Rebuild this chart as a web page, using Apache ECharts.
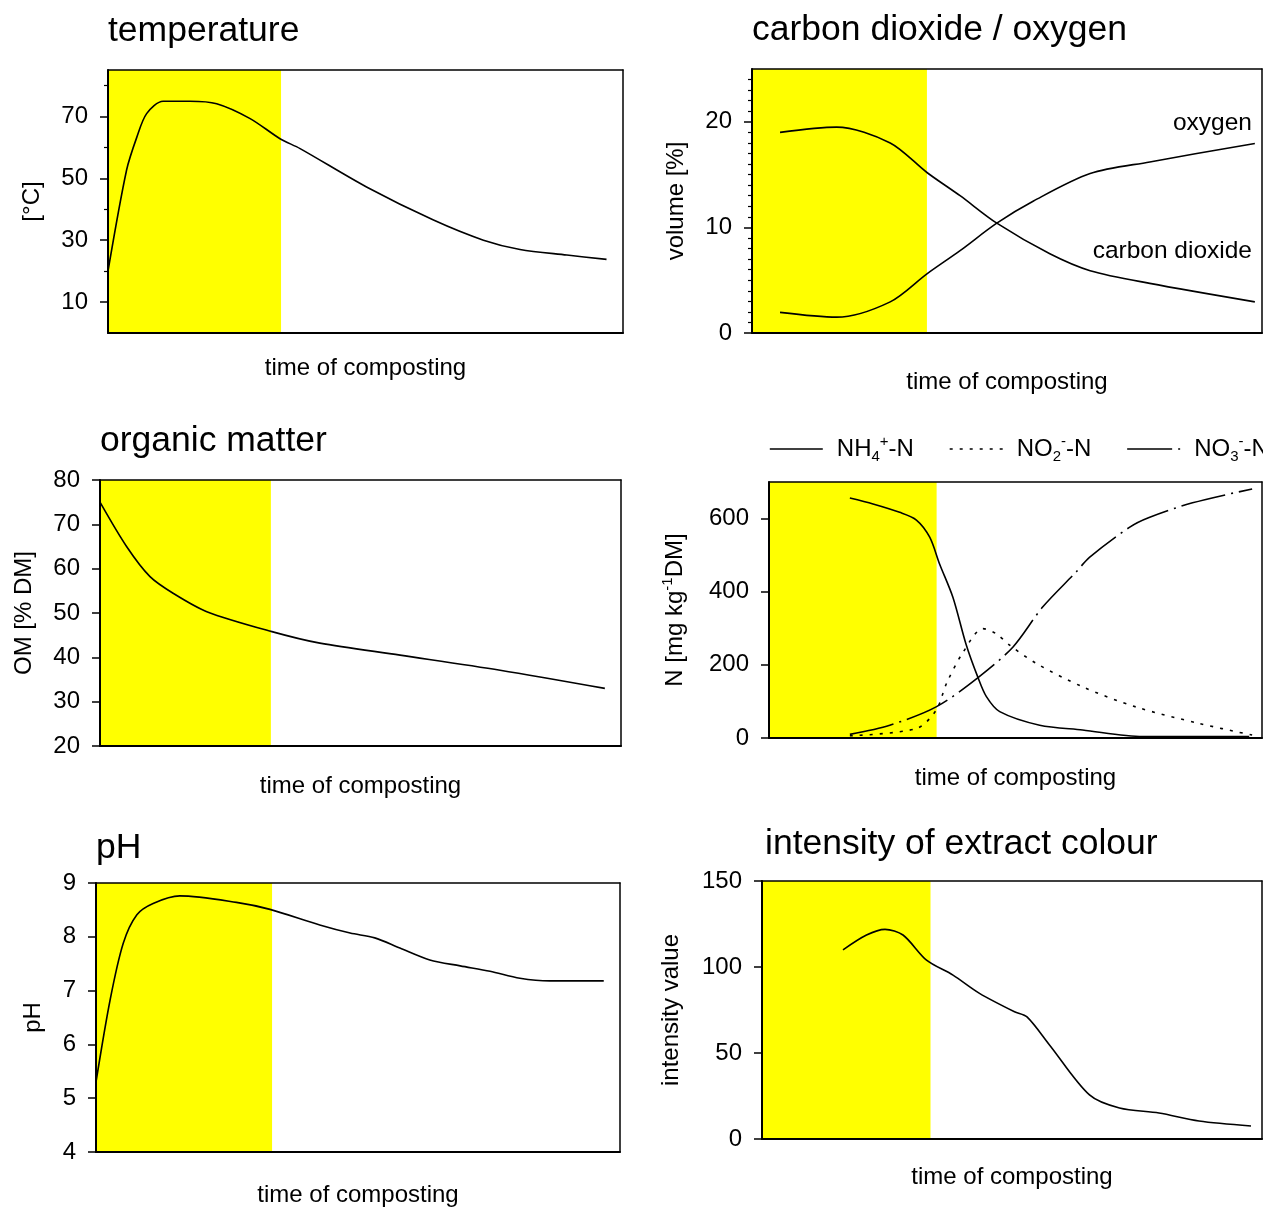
<!DOCTYPE html>
<html><head><meta charset="utf-8">
<script src="https://cdn.jsdelivr.net/npm/echarts@6/dist/echarts.min.js"></script>
<style>html,body{margin:0;padding:0;background:#fff}#c{width:1263px;height:1209px}</style>
</head><body><div id="c"></div>
<script>
const FONT = 'Liberation Sans, Arial, sans-serif';
// x = share of composting time (%), y = measured value
const temperature = [[0,20],[3.6,52.6],[5.6,63.3],[7.5,70.9],[10.7,74.9],[15.9,74.9],[21.1,74.1],[27.6,69.3],[33.4,62.8],[37.3,59.6],[50.2,47.2],[63.2,36.5],[72.9,30],[80,27],[89.1,25.2],[96.8,23.8]];
const carbonDioxide = [[5.5,19.0],[16.6,19.5],[27.1,18.0],[34.3,15.2],[40.8,13.0],[48.0,10.4],[58.4,7.5],[66.3,5.9],[78.0,4.7],[98.6,2.95]];
const oxygen = [[5.5,1.95],[16.6,1.5],[27.1,2.95],[34.3,5.6],[40.8,7.8],[48.0,10.4],[55.2,12.5],[66.3,15.1],[78.0,16.2],[98.6,17.95]];
const organicMatter = [[0,75],[5.1,65],[9.6,58.2],[14.1,54.4],[20.5,50.3],[33.0,45.8],[42.2,43.2],[57.6,40.5],[76.8,37.1],[96.9,33.0]];
const ammonium = [[16.4,656],[21.1,640],[26.5,617],[29.9,596],[32.6,549],[34.6,476],[37.3,385],[40.0,255],[42.4,165],[44.1,113],[46.8,72],[54.9,35],[63.6,22],[75.8,4],[97.4,4]];
const nitrite = [[16.4,6],[29.9,26],[33.9,76],[36.0,149],[39.3,233],[43.4,299],[46.1,285],[48.8,254],[54.2,204],[63.6,140],[74.4,85],[87.2,40],[98.0,8]];
const nitrate = [[16.4,10],[24.5,35],[33.9,85],[42.4,165],[49.5,249],[55.5,358],[62.3,454],[65.0,494],[73.1,576],[77.1,603],[85.9,643],[98.0,681]];
const pH = [[0,5.3],[2.7,6.83],[5.2,7.88],[7.8,8.41],[10.9,8.62],[16.0,8.76],[26.8,8.64],[33.2,8.51],[42.7,8.22],[48.5,8.07],[53.2,7.98],[58.0,7.79],[63.7,7.57],[69.5,7.46],[75.2,7.36],[80.9,7.23],[86.6,7.18],[96.9,7.18]];
const colourIntensity = [[16.2,110],[20.9,118.6],[24.6,121.9],[28.2,118.6],[32.9,104],[38.2,95.3],[43.5,84.7],[50.5,74],[53,71],[57.5,54.7],[65.5,25.6],[71.5,18],[79.4,15.1],[87.4,10.5],[97.8,7.6]];
// thermophilic phase (yellow band), end in % of time
const thermoEnd = [33.6, 34.3, 32.8, 34.0, 33.6, 33.7];
// tick labels
const tempLabels = [10,30,50,70];
const tempMinor = [20,40,60,80];
const gasLabels = [0,10,20];
const gasMinor = [1,2,3,4,5,6,7,8,9,11,12,13,14,15,16,17,18,19,21,22,23,24];
const nLabels = [0,200,400,600];

const option = {
  animation: false, backgroundColor: '#fff',
  textStyle: { fontFamily: FONT },
  title: [], grid: [], xAxis: [], yAxis: [], series: [], graphic: []
};
const SMALL = 24;
const rich = {
  n: { fontSize: SMALL, lineHeight: 30, color: '#000', fontFamily: FONT },
  sub: { fontSize: 15, lineHeight: 30, verticalAlign: 'bottom', color: '#000', fontFamily: FONT },
  sup: { fontSize: 15, lineHeight: 30, verticalAlign: 'top', color: '#000', fontFamily: FONT },
  sp: { width: 9 }
};

function addPanel(p) {
  const gi = option.grid.length;
  option.grid.push({ left: p.box[0], top: p.box[1], width: p.box[2], height: p.box[3] });
  option.title.push({ text: p.title, left: p.box[0] + (p.titleDx || 0), top: p.titleTop, padding: 0,
    textStyle: { fontSize: 35.5, fontWeight: 'normal', color: '#000', fontFamily: FONT } });
  const xi = option.xAxis.length;
  option.xAxis.push({ type: 'value', gridIndex: gi, position: 'bottom', min: 0, max: 100, z: 5,
    name: 'time of composting', nameLocation: 'middle', nameGap: p.xGap,
    nameTextStyle: { fontSize: SMALL, color: '#000', fontFamily: FONT },
    axisLine: { show: true, onZero: false, lineStyle: { color: '#000', width: 2 } },
    axisTick: { show: false }, axisLabel: { show: false }, splitLine: { show: false } });
  option.xAxis.push({ type: 'value', gridIndex: gi, position: 'top', min: 0, max: 100, z: 5,
    axisLine: { show: true, onZero: false, lineStyle: { color: '#000', width: 1.5 } },
    axisTick: { show: false }, axisLabel: { show: false }, splitLine: { show: false } });
  const yi = option.yAxis.length;
  const tick = { show: true, length: 8, lineStyle: { color: '#000', width: 1.5 } };
  if (p.majorTicks) tick.customValues = p.majorTicks;
  const lab = { margin: 20, fontSize: SMALL, color: '#000', fontFamily: FONT };
  if (p.labels) lab.customValues = p.labels;
  const main = { type: 'value', gridIndex: gi, position: 'left', offset: 0, min: p.yMin, max: p.yMax, z: 5,
    name: p.yName, nameLocation: 'middle', nameGap: p.yGap,
    nameTextStyle: { fontSize: SMALL, color: '#000', fontFamily: FONT, rich: rich },
    axisLine: { show: true, onZero: false, lineStyle: { color: '#000', width: 2 } },
    axisTick: tick, axisLabel: lab, splitLine: { show: false } };
  if (p.yInterval) main.interval = p.yInterval;
  option.yAxis.push(main);
  option.yAxis.push({ type: 'value', gridIndex: gi, position: 'right', offset: 0, min: p.yMin, max: p.yMax, z: 5,
    axisLine: { show: true, onZero: false, lineStyle: { color: '#000', width: 1.5 } },
    axisTick: { show: false }, axisLabel: { show: false }, splitLine: { show: false } });
  if (p.minorTicks) {
    option.yAxis.push({ type: 'value', gridIndex: gi, position: 'left', offset: 0, min: p.yMin, max: p.yMax, z: 5,
      axisLine: { show: false }, axisLabel: { show: false }, splitLine: { show: false },
      axisTick: { show: true, length: 4, customValues: p.minorTicks, lineStyle: { color: '#000', width: 1.2 } } });
  }
  p.series.forEach((s, k) => {
    const ser = { type: 'line', name: s.name, xAxisIndex: xi, yAxisIndex: yi, data: s.data,
      symbol: 'none', smooth: 0.3, z: 3,
      lineStyle: { color: '#000', width: 1.6, type: s.type || 'solid' }, itemStyle: { color: '#000' } };
    if (k === 0) ser.markArea = { silent: true, itemStyle: { color: '#ffff00', opacity: 1 },
      data: [[{ xAxis: 0 }, { xAxis: p.band }]] };
    option.series.push(ser);
  });
}

addPanel({ box: [108, 70, 515, 263], title: 'temperature', titleTop: 13, yMin: 0, yMax: 85,
  labels: tempLabels, majorTicks: tempLabels, minorTicks: tempMinor, yName: '[°C]', yGap: 64, xGap: 23,
  band: thermoEnd[0], series: [{ name: 'temperature', data: temperature }] });
addPanel({ box: [752, 69, 510, 264], title: 'carbon dioxide / oxygen', titleTop: 12, yMin: 0, yMax: 25,
  labels: gasLabels, majorTicks: gasLabels, minorTicks: gasMinor, yName: 'volume [%]', yGap: 64, xGap: 37,
  band: thermoEnd[1], series: [{ name: 'carbon dioxide', data: carbonDioxide }, { name: 'oxygen', data: oxygen }] });
addPanel({ box: [100, 480, 521, 266], title: 'organic matter', titleTop: 423, yMin: 20, yMax: 80, yInterval: 10,
  yName: 'OM [% DM]', yGap: 64, xGap: 28,
  band: thermoEnd[2], series: [{ name: 'organic matter', data: organicMatter }] });
addPanel({ box: [769, 482, 493, 256], title: '', titleTop: 0, yMin: 0, yMax: 700,
  labels: nLabels, majorTicks: nLabels, yName: '{n|N [mg kg}{sup|-1}{n|DM]}', yGap: 79, xGap: 28,
  band: thermoEnd[3], series: [
    { name: 'NH4', data: ammonium },
    { name: 'NO2', data: nitrite, type: [3, 7] },
    { name: 'NO3', data: nitrate, type: [45, 6, 2, 6] }] });
addPanel({ box: [96, 883, 524, 269], title: 'pH', titleTop: 830, yMin: 4, yMax: 9, yInterval: 1,
  yName: 'pH', yGap: 51, xGap: 31,
  band: thermoEnd[4], series: [{ name: 'pH', data: pH }] });
addPanel({ box: [762, 881, 500, 258], title: 'intensity of extract colour', titleDx: 3, titleTop: 826, yMin: 0, yMax: 150, yInterval: 50,
  yName: 'intensity value', yGap: 79, xGap: 26,
  band: thermoEnd[5], series: [{ name: 'intensity', data: colourIntensity }] });

const legendText = {
  NH4: '{sp| }{n|NH}{sub|4}{sup|+}{n|-N}',
  NO2: '{sp| }{n|NO}{sub|2}{sup|-}{n|-N}',
  NO3: '{sp| }{n|NO}{sub|3}{sup|-}{n|-N}'
};
option.legend = { left: 769, top: 434, width: 700, orient: 'horizontal', padding: 0, itemGap: 35, itemWidth: 53, itemHeight: 14,
  data: ['NH4', 'NO2', 'NO3'], formatter: n => legendText[n],
  textStyle: { color: '#000', fontSize: SMALL, fontFamily: FONT, rich: rich },
  itemStyle: { color: 'rgba(0,0,0,0)', opacity: 0, borderWidth: 0 },
  lineStyle: { width: 1.6 } };

option.graphic = [
  { type: 'text', right: 11, top: 111, style: { text: 'oxygen', fontSize: 24.5, fontFamily: FONT, fill: '#000' } },
  { type: 'text', right: 11, top: 239, style: { text: 'carbon dioxide', fontSize: 24.5, fontFamily: FONT, fill: '#000' } }
];

const chart = echarts.init(document.getElementById('c'), null, { renderer: 'canvas' });
chart.setOption(option);
</script></body></html>
